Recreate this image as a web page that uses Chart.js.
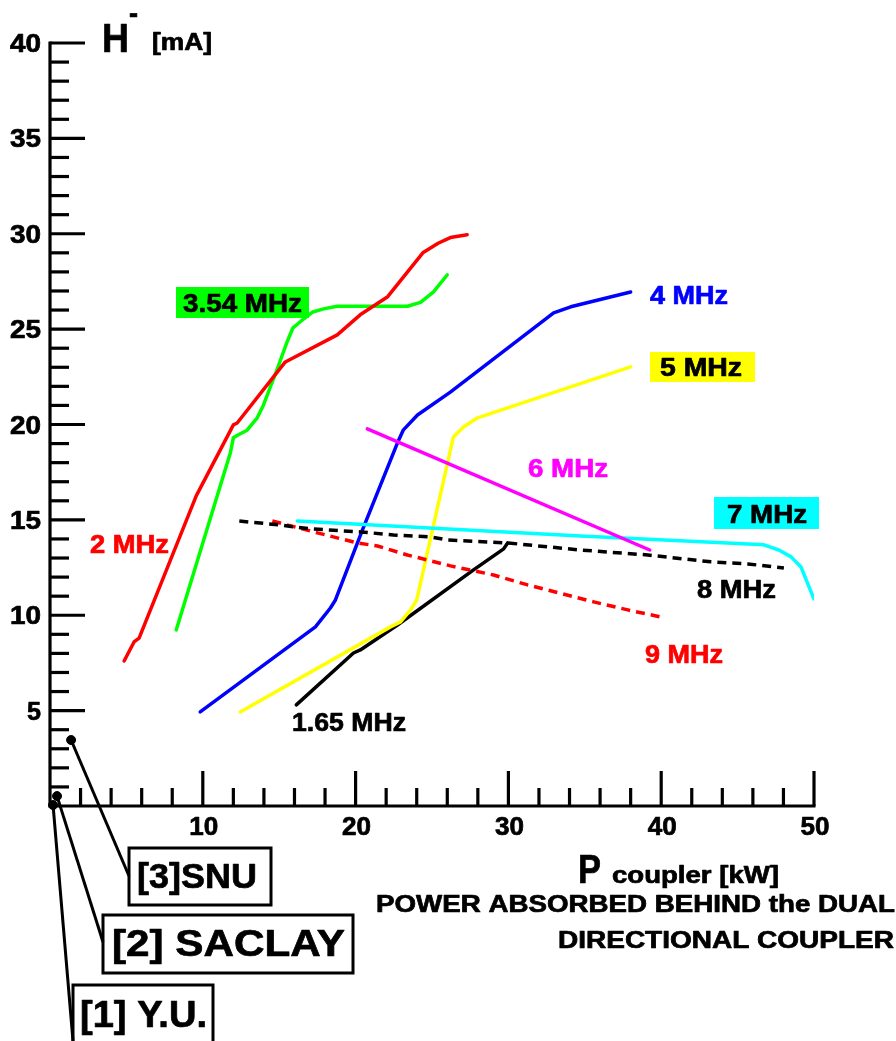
<!DOCTYPE html>
<html>
<head>
<meta charset="utf-8">
<script src="https://cdn.jsdelivr.net/npm/chart.js@4"></script>
<style>
  body { margin:0; background:#fff; }
  #wrap { width:896px; height:1041px; position:relative; }
</style>
</head>
<body>
<div id="wrap"><canvas id="c"></canvas></div>
<script>
// P coupler [kW] (x) against H- current [mA] (y)
var x_2mhz = [4.85, 5.5, 5.83, 9.57, 12.0, 12.25, 15.4, 18.8, 20.3, 22.1, 24.4, 25.4, 26.2, 27.3]
var y_2mhz = [7.6, 8.6, 8.8, 16.26, 19.98, 20.08, 23.28, 24.7, 25.75, 26.7, 29.0, 29.5, 29.8, 29.95]

var x_354mhz = [8.26, 11.8, 12.0, 12.3, 12.9, 13.56, 13.96, 14.9, 15.5, 15.9, 16.4, 17.2, 17.9, 18.8, 23.4, 24.25, 25.1, 26.0]
var y_354mhz = [9.23, 18.5, 19.3, 19.45, 19.7, 20.35, 21.0, 22.97, 24.3, 25.07, 25.4, 25.9, 26.06, 26.2, 26.2, 26.4, 26.95, 27.85]

var x_4mhz = [9.83, 17.37, 18.35, 18.68, 20.45, 22.74, 23.13, 24.05, 26.2, 32.96, 34.08, 38.0]
var y_4mhz = [4.93, 9.39, 10.38, 10.8, 14.47, 19.04, 19.72, 20.5, 21.7, 25.85, 26.17, 26.95]

var x_5mhz = [12.45, 22.28, 22.94, 23.6, 24.0, 26.4, 27.06, 27.98, 38.0]
var y_5mhz = [4.93, 9.39, 9.65, 10.28, 10.8, 19.35, 19.87, 20.35, 23.02]

var x_6mhz = [20.77, 39.25]
var y_6mhz = [19.77, 13.42]

var x_7mhz = [16.19, 34.73, 46.72, 47.7, 48.5, 49.15, 50.0]
var y_7mhz = [14.94, 14.16, 13.69, 13.42, 13.06, 12.53, 10.85]

var x_8mhz = [12.39, 15.07, 17.04, 20.31, 22.48, 24.9, 26.0, 29.95, 34.73, 39.12, 43.25, 45.67, 48.03]
var y_8mhz = [14.94, 14.73, 14.53, 14.37, 14.21, 14.11, 13.95, 13.79, 13.42, 13.16, 12.8, 12.69, 12.48]

var x_9mhz = [14.55, 17.5, 20.12, 21.43, 23.39, 26.21, 29.03, 31.26, 35.58, 37.81, 39.97]
var y_9mhz = [14.94, 14.32, 13.79, 13.63, 13.16, 12.59, 12.11, 11.59, 10.7, 10.28, 9.91]

var x_165mhz = [16.12, 19.86, 20.31, 22.74, 27.72, 29.69, 29.95]
var y_165mhz = [5.3, 8.02, 8.18, 9.49, 12.38, 13.48, 13.79]

// the three published points near the origin
var refNames = ['[1] Y.U.', '[2] SACLAY', '[3]SNU']
var refX = [0.2, 0.46, 1.38]
var refY = [0.05, 0.52, 3.46]

var xTicks = [10, 20, 30, 40, 50]
var yTicks = [5, 10, 15, 20, 25, 30, 35, 40]

function pts(xs, ys){
  var out = []
  for (let i=0; i<xs.length; i++) out.push({x: xs[i], y: ys[i]})
  return out
}

function line(label, xs, ys, color, dash){
  return {
    label: label,
    data: pts(xs, ys),
    borderColor: color,
    borderWidth: 3.5,
    borderDash: dash || [],
    borderCapStyle: dash ? 'butt' : 'round',
    borderJoinStyle: 'round',
    pointRadius: 0,
    tension: 0,
    fill: false
  }
}

var FONT = '"Liberation Sans", Arial, sans-serif'

// text helper: bold text squeezed/stretched to a given width
function txt(ctx, s, x, y, size, w, align, color){
  ctx.save()
  ctx.font = 'bold ' + size + 'px ' + FONT
  ctx.fillStyle = color || '#000'
  ctx.strokeStyle = color || '#000'
  ctx.lineWidth = 0.7
  ctx.lineJoin = 'round'
  ctx.textBaseline = 'alphabetic'
  var m = ctx.measureText(s).width
  var k = w ? w / m : 1
  var left = x
  if (align === 'right') left = x - m*k
  if (align === 'center') left = x - m*k/2
  ctx.translate(left, y)
  ctx.scale(k, 1)
  ctx.fillText(s, 0, 0)
  ctx.strokeText(s, 0, 0)
  ctx.restore()
}

function box(ctx, x1, y1, x2, y2, fillColor, lw){
  ctx.save()
  if (fillColor){
    ctx.fillStyle = fillColor
    ctx.fillRect(x1, y1, x2-x1, y2-y1)
  } else {
    ctx.strokeStyle = '#000'
    ctx.lineWidth = lw || 3
    ctx.strokeRect(x1, y1, x2-x1, y2-y1)
  }
  ctx.restore()
}

var axesPlugin = {
  id: 'axesPlugin',
  beforeDatasetsDraw(chart){
    var ctx = chart.ctx
    var xs = chart.scales.x, ys = chart.scales.y
    var x0 = xs.getPixelForValue(0), y0 = ys.getPixelForValue(0)
    ctx.save()
    ctx.strokeStyle = '#000'
    ctx.lineWidth = 3.2
    ctx.lineCap = 'butt'
    ctx.beginPath()
    ctx.moveTo(x0, ys.getPixelForValue(40) - 1.5)
    ctx.lineTo(x0, y0)
    ctx.lineTo(xs.getPixelForValue(50) + 1.5, y0)
    ctx.stroke()
    // y ticks, pointing into the plot
    for (let v=1; v<=40; v++){
      var py = ys.getPixelForValue(v)
      var len = v % 5 === 0 ? 35 : 19
      ctx.beginPath(); ctx.moveTo(x0, py); ctx.lineTo(x0 + len, py); ctx.stroke()
    }
    // x ticks, pointing up
    for (let v=2; v<=50; v+=2){
      var px = xs.getPixelForValue(v)
      var len2 = v % 10 === 0 ? 35 : 18
      ctx.beginPath(); ctx.moveTo(px, y0); ctx.lineTo(px, y0 - len2); ctx.stroke()
    }
    ctx.restore()

    yTicks.forEach(function(v){
      var s = String(v)
      txt(ctx, s, 41, ys.getPixelForValue(v) + 9, 25, s.length > 1 ? 31 : 14, 'right')
    })
    xTicks.forEach(function(v){
      txt(ctx, String(v), xs.getPixelForValue(v) + 1, 835, 25, 29, 'center')
    })

    // axis titles
    txt(ctx, 'H', 102, 52, 40, 27)
    txt(ctx, '-', 129, 23, 30, 9)
    txt(ctx, '[mA]', 152, 50, 23, 60)
    txt(ctx, 'P', 578, 883, 40, 23)
    txt(ctx, 'coupler [kW]', 612, 883, 23, 167)
    txt(ctx, 'POWER ABSORBED BEHIND the DUAL', 376, 912, 23, 519)
    txt(ctx, 'DIRECTIONAL COUPLER', 558, 948, 23, 336)

    // series labels
    box(ctx, 176, 287, 309, 318, '#00ff00')
    txt(ctx, '3.54 MHz', 183, 312, 26, 119)
    txt(ctx, '2 MHz', 90, 553, 25, 79, null, '#ff0000')
    txt(ctx, '4 MHz', 650, 304, 25, 78, null, '#0000ff')
    box(ctx, 650, 352, 755, 382, '#ffff00')
    txt(ctx, '5 MHz', 660, 376, 25, 82)
    txt(ctx, '6 MHz', 528, 477, 25, 80, null, '#ff00ff')
    box(ctx, 714, 497, 819, 529, '#00ffff')
    txt(ctx, '7 MHz', 727, 523, 25, 80)
    txt(ctx, '8 MHz', 697, 598, 25, 79)
    txt(ctx, '9 MHz', 645, 663, 25, 78, null, '#ff0000')
    txt(ctx, '1.65 MHz', 292, 731, 25, 114)
  },
  afterDatasetsDraw(chart){
    var ctx = chart.ctx
    var xs = chart.scales.x, ys = chart.scales.y
    // callouts from the published points to their boxes
    var ends = [[73, 1041], [103, 942], [129, 876]]
    ctx.save()
    ctx.strokeStyle = '#000'
    ctx.lineWidth = 3
    for (let i=0; i<refX.length; i++){
      ctx.beginPath()
      ctx.moveTo(xs.getPixelForValue(refX[i]), ys.getPixelForValue(refY[i]))
      ctx.lineTo(ends[i][0], ends[i][1])
      ctx.stroke()
    }
    ctx.restore()
    box(ctx, 129, 848, 271, 905, null, 3)
    txt(ctx, refNames[2], 137, 888, 35, 120)
    box(ctx, 103, 915, 353, 973, null, 3)
    txt(ctx, refNames[1], 112, 956, 36, 233)
    box(ctx, 73, 985, 213, 1046, null, 3)
    txt(ctx, refNames[0], 80, 1027, 36, 127)
  }
}

const ctx = document.getElementById('c').getContext('2d')
const myChart = new Chart(ctx, {
  type: 'line',
  data: {
    datasets: [
      line('2 MHz', x_2mhz, y_2mhz, '#ff0000'),
      line('3.54 MHz', x_354mhz, y_354mhz, '#00ff00'),
      line('6 MHz', x_6mhz, y_6mhz, '#ff00ff'),
      line('7 MHz', x_7mhz, y_7mhz, '#00ffff'),
      line('8 MHz', x_8mhz, y_8mhz, '#000000', [9, 6]),
      line('9 MHz', x_9mhz, y_9mhz, '#ff0000', [9, 6]),
      line('4 MHz', x_4mhz, y_4mhz, '#0000ff'),
      line('5 MHz', x_5mhz, y_5mhz, '#ffff00'),
      line('1.65 MHz', x_165mhz, y_165mhz, '#000000'),
      {
        label: 'refs',
        data: pts(refX, refY),
        showLine: false,
        pointRadius: 4.5,
        pointBackgroundColor: '#000',
        pointBorderColor: '#000',
        clip: false
      }
    ]
  },
  options: {
    responsive: true,
    maintainAspectRatio: false,
    animation: false,
    layout: { padding: { left: 50, right: 82, top: 43, bottom: 235 } },
    plugins: { legend: { display: false }, tooltip: { enabled: false } },
    scales: {
      x: { type: 'linear', min: 0, max: 50, display: false },
      y: { min: 0, max: 40, display: false }
    }
  },
  plugins: [axesPlugin]
})
</script>
</body>
</html>
